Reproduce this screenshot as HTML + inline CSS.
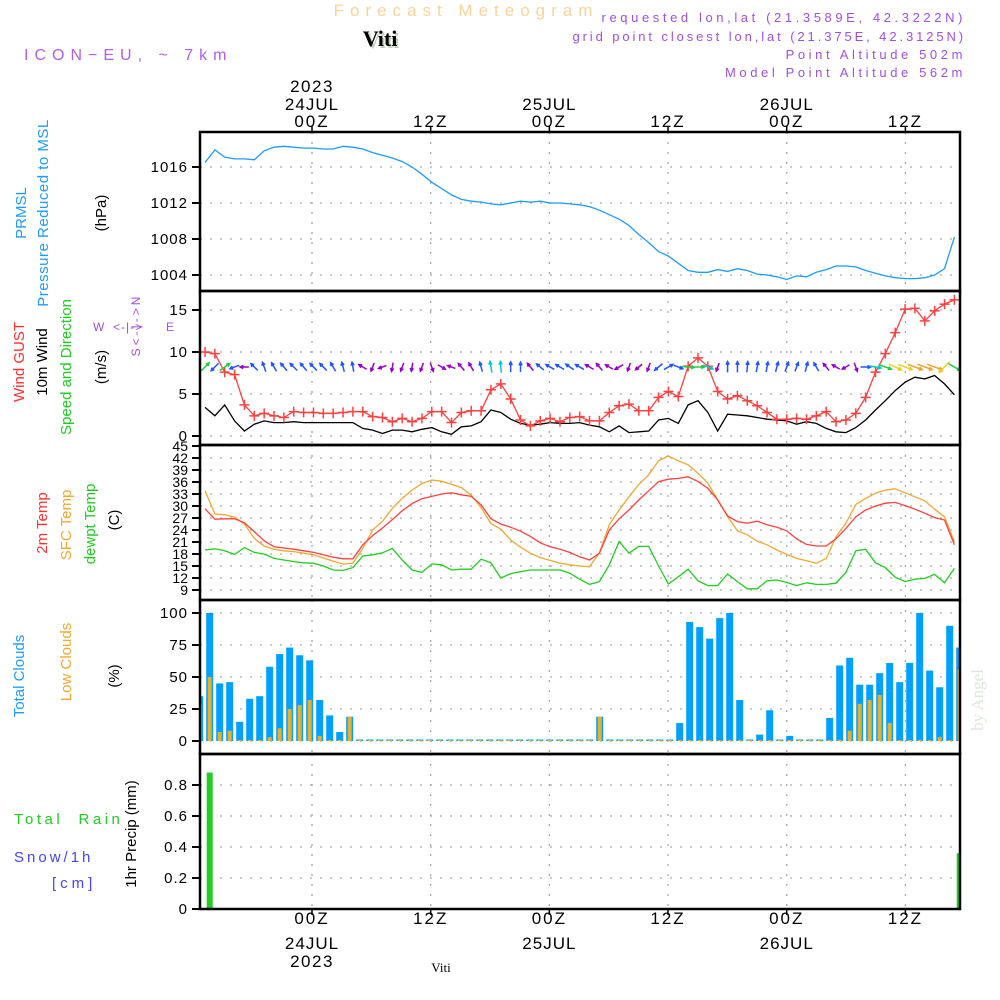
<!DOCTYPE html>
<html><head><meta charset="utf-8">
<style>
body{margin:0;background:#fff;}
svg{display:block;font-family:"Liberation Sans",sans-serif;}
</style></head>
<body>
<svg id="chart" width="1000" height="1000" viewBox="0 0 1000 1000" xmlns="http://www.w3.org/2000/svg">
<text x="466" y="16" text-anchor="middle" font-size="17" fill="#f8d49a" letter-spacing="6">Forecast Meteogram</text>
<text x="382" y="48" text-anchor="middle" font-size="22" font-weight="bold" font-family="Liberation Serif,serif" fill="#bcd0bc">Viti</text>
<text x="380" y="46" text-anchor="middle" font-size="22" font-weight="bold" font-family="Liberation Serif,serif" fill="#000">Viti</text>
<text x="24" y="60" font-size="16" fill="#b060e8" letter-spacing="6">ICON−EU, ~ 7km</text>
<g font-size="13" fill="#a050e0" text-anchor="end" letter-spacing="3.6">
<text x="966" y="22">requested lon,lat (21.3589E, 42.3222N)</text>
<text x="966" y="41" letter-spacing="2.9">grid point closest lon,lat (21.375E, 42.3125N)</text>
<text x="966" y="59">Point Altitude 502m</text>
<text x="966" y="77">Model Point Altitude 562m</text>
</g>
<g id="grid"></g>
<g id="marks"></g>
<g id="frames"></g>
<g id="axes"></g>
<g font-size="15">
<text transform="translate(26,213) rotate(-90)" text-anchor="middle" fill="#1e9bff">PRMSL</text>
<text transform="translate(48,213) rotate(-90)" text-anchor="middle" fill="#1e9bff" letter-spacing="0.5">Pressure Reduced to MSL</text>
<text transform="translate(106,213) rotate(-90)" text-anchor="middle" fill="#000">(hPa)</text>
<text transform="translate(24,362) rotate(-90)" text-anchor="middle" fill="#ff3030">Wind GUST</text>
<text transform="translate(47,362) rotate(-90)" text-anchor="middle" fill="#000">10m Wind</text>
<text transform="translate(71,367) rotate(-90)" text-anchor="middle" fill="#22cc22">Speed and Direction</text>
<text transform="translate(106,367) rotate(-90)" text-anchor="middle" fill="#000">(m/s)</text>
<text x="93" y="331" font-size="12" fill="#a050e0">W</text>
<text x="113" y="331" font-size="12" fill="#a050e0" letter-spacing="1">&lt;-|-&gt;</text>
<text x="166" y="331" font-size="12" fill="#a050e0">E</text>
<text transform="translate(140,325) rotate(-90)" text-anchor="middle" font-size="12" fill="#a050e0" letter-spacing="3">S&lt;-|-&gt;N</text>
<text transform="translate(47,523) rotate(-90)" text-anchor="middle" fill="#ff3030">2m Temp</text>
<text transform="translate(71,525) rotate(-90)" text-anchor="middle" fill="#f0a830">SFC Temp</text>
<text transform="translate(95,524) rotate(-90)" text-anchor="middle" fill="#22cc22">dewpt Temp</text>
<text transform="translate(119,520) rotate(-90)" text-anchor="middle" fill="#000">(C)</text>
<text transform="translate(24,676) rotate(-90)" text-anchor="middle" fill="#1e9bff">Total Clouds</text>
<text transform="translate(71,662) rotate(-90)" text-anchor="middle" fill="#f0a830">Low Clouds</text>
<text transform="translate(119,676) rotate(-90)" text-anchor="middle" fill="#000">(%)</text>
<text x="14" y="824" fill="#22cc22" letter-spacing="3.5" xml:space="preserve">Total  Rain</text>
<text x="14" y="862" fill="#4444ff" letter-spacing="3">Snow/1h</text>
<text x="52" y="888" fill="#4444ff" letter-spacing="4">[cm]</text>
<text transform="translate(136,834) rotate(-90)" text-anchor="middle" fill="#000">1hr Precip (mm)</text>
</g>
<text x="441" y="972" text-anchor="middle" font-size="13" font-family="Liberation Serif,serif">Viti</text>
<text transform="translate(983,700) rotate(-90)" text-anchor="middle" font-size="17" font-family="Liberation Serif,serif" fill="#dde8dd">by Angel</text>
</svg>
<script>
// ---- data (hourly, from 23JUL 13Z) ----
const pressure=[1016.5,1017.9,1017.1,1016.9,1016.9,1016.8,1017.8,1018.2,1018.3,1018.2,1018.1,1018.1,1018.0,1018.0,1018.3,1018.2,1018.0,1017.6,1017.3,1017.0,1016.6,1016.0,1015.2,1014.3,1013.6,1012.9,1012.4,1012.2,1012.1,1011.9,1011.8,1012.0,1012.2,1012.1,1012.2,1012.0,1012.0,1011.9,1011.8,1011.6,1011.2,1010.7,1010.2,1009.5,1008.5,1007.6,1006.6,1006.1,1005.3,1004.5,1004.3,1004.3,1004.6,1004.4,1004.7,1004.5,1004.1,1004.0,1003.8,1003.5,1003.9,1003.8,1004.3,1004.6,1005.0,1005.0,1004.9,1004.5,1004.2,1003.9,1003.7,1003.6,1003.6,1003.7,1004.0,1004.7,1008.2];
const gust=[10.0,9.8,7.6,7.3,3.7,2.4,2.7,2.4,2.2,2.9,2.8,2.8,2.7,2.7,2.8,2.9,2.9,2.3,2.2,1.7,2.1,1.7,2.1,2.9,2.9,1.6,2.8,3.0,3.0,5.5,6.2,4.4,1.9,1.2,1.8,2.1,1.7,2.2,2.3,1.8,1.8,2.8,3.6,3.8,3.0,3.0,4.6,5.3,4.7,8.3,9.3,8.3,5.3,4.4,4.8,4.2,3.6,2.8,2.0,2.0,2.1,2.0,2.4,2.9,1.7,1.9,2.7,4.6,7.6,9.8,12.3,15.1,15.2,13.7,14.9,15.7,16.2];
const wind=[3.4,2.4,3.7,1.8,0.6,1.4,1.8,1.6,1.6,1.7,1.6,1.6,1.6,1.6,1.6,1.6,0.9,0.7,0.3,0.7,0.7,0.5,0.8,1.0,0.5,0.2,1.1,1.2,1.7,3.1,2.8,2.0,1.5,1.3,1.4,1.6,1.5,1.5,1.6,1.3,1.1,0.5,1.2,0.4,0.5,0.6,1.9,2.1,1.5,3.7,4.2,2.8,0.6,2.6,2.5,2.4,2.2,2.0,1.9,1.8,1.4,1.7,1.5,0.9,0.5,0.4,1.0,1.9,3.1,4.2,5.4,6.4,7.0,6.8,7.2,6.2,4.9];
const windDir=[45,225,55,250,270,315,340,330,320,315,320,315,315,330,345,350,300,200,250,190,200,190,200,160,120,290,320,330,345,350,355,0,0,320,310,300,300,305,300,300,320,300,240,200,230,200,230,60,110,95,90,110,200,0,0,5,10,10,15,20,20,15,330,320,300,240,160,90,100,110,115,110,110,110,110,225,120];
const temp2m=[29.3,26.7,26.8,26.8,25.8,23.6,21.3,19.8,19.5,19.2,18.8,18.4,17.8,17.2,16.8,16.8,20.3,22.6,24.5,26.6,28.8,30.6,31.8,32.4,33.0,33.3,32.8,32.4,30.3,26.8,25.5,24.7,23.7,22.4,20.8,19.8,19.2,18.4,17.3,16.5,18.2,24.0,26.8,29.0,31.5,33.8,36.1,36.7,36.9,37.3,36.1,34.4,31.5,27.5,26.1,25.7,26.2,25.3,24.7,23.8,21.8,20.4,20.0,20.0,21.8,24.4,27.3,29.0,30.0,30.7,30.9,30.1,29.2,28.2,27.1,26.5,20.3];
const tempSfc=[33.8,28.0,27.8,27.2,25.5,21.9,20.0,19.2,18.8,18.6,18.2,17.8,17.0,16.2,15.5,15.7,19.4,24.0,26.2,29.4,31.9,34.0,35.6,36.5,36.2,35.4,34.6,32.7,29.6,25.6,24.2,21.5,19.7,18.2,17.1,16.4,15.7,15.3,15.0,14.8,18.3,25.3,29.0,32.3,35.4,37.8,41.3,42.5,41.3,40.3,38.2,35.7,31.5,27.3,23.8,22.8,21.2,20.3,19.0,17.9,16.9,16.3,15.7,16.9,22.3,25.7,30.4,31.9,33.2,34.0,34.3,33.3,32.3,31.3,29.2,27.3,21.0];
const dewpt=[19.0,19.3,18.8,17.9,19.6,18.4,18.0,16.9,16.5,16.1,15.8,15.7,15.0,14.0,13.9,14.6,17.5,17.8,18.3,19.4,16.5,14.0,13.4,15.5,15.3,14.0,14.2,14.2,16.7,15.8,12.0,13.1,13.6,14.0,14.0,14.0,14.0,13.2,11.7,10.4,11.1,15.3,21.1,18.2,19.9,19.9,15.0,10.5,12.3,14.2,11.3,10.1,10.1,13.0,11.1,9.3,9.3,11.3,11.5,10.9,10.1,10.8,10.4,10.4,10.7,13.4,18.8,19.2,15.8,14.6,12.2,11.1,11.7,11.9,12.9,10.8,14.4];
const totalClouds=[35,100,45,46,15,33,35,58,68,73,67,63,32,20,7,19,0,0,0,0,0,0,0,0,0,0,0,0,0,0,0,0,0,0,0,0,0,0,0,0,19,0,0,0,0,0,0,0,14,93,89,80,96,100,32,0,5,24,0,4,0,0,1,18,59,65,44,44,53,61,46,61,100,55,42,90,73];
const lowClouds=[28,50,7,8,0,0,0,3,10,25,28,32,4,0,0,19,0,0,0,0,0,0,0,0,0,0,0,0,0,0,0,0,0,0,0,0,0,0,0,0,19,0,0,0,0,0,0,0,0,0,0,0,0,0,0,0,0,0,0,0,0,0,0,0,1,8,29,32,36,14,0,0,0,0,3,0,56];
const precip=[0,0.88,0,0,0,0,0,0,0,0,0,0,0,0,0,0,0,0,0,0,0,0,0,0,0,0,0,0,0,0,0,0,0,0,0,0,0,0,0,0,0,0,0,0,0,0,0,0,0,0,0,0,0,0,0,0,0,0,0,0,0,0,0,0,0,0,0,0,0,0,0,0,0,0,0,0,0.36];
const pTicks=[1004,1008,1012,1016];
const wTicks=[0,5,10,15];
const tTicks=[9,12,15,18,21,24,27,30,33,36,39,42,45];
const cTicks=[0,25,50,75,100];
const rTicks=[0,0.2,0.4,0.6,0.8];
const timeHours=[0,12,24,36,48,60];
const timeTop=["00Z","12Z","00Z","12Z","00Z","12Z"];
const dateLabels=["24JUL","","25JUL","","26JUL",""];

// ---- scales ----
const X0=200,X1=960;
const xL=i=>205+9.86*i;
const xB=i=>199.7+10*i;
const xT=h=>312+h*9.89;
const yP=p=>167+(1016-p)*9;
const yW=v=>436-v*8.4;
const yT=t=>590-(t-9)*4;
const yC=c=>741-c*1.28;
const yR=r=>909-r*155;
const NS='http://www.w3.org/2000/svg';
const gGrid=document.getElementById('grid'),gMarks=document.getElementById('marks'),gFr=document.getElementById('frames'),gAx=document.getElementById('axes');
function mk(tag,attrs,parent){const e=document.createElementNS(NS,tag);for(const k in attrs)e.setAttribute(k,attrs[k]);parent.appendChild(e);return e;}

const panels=[{t:132,b:291,ticks:pTicks,y:yP,fmt:v=>v},{t:291,b:445,ticks:wTicks,y:yW,fmt:v=>v},{t:445,b:600,ticks:tTicks,y:yT,fmt:v=>v},{t:600,b:754,ticks:cTicks,y:yC,fmt:v=>v},{t:754,b:909,ticks:rTicks,y:yR,fmt:v=>v===0?'0':v.toFixed(1)}];
panels.forEach((p,pi)=>{
  timeHours.forEach(h=>{const l=mk('line',{x1:xT(h),x2:xT(h),y1:p.t,y2:p.b,stroke:'#aaa','stroke-width':1.3,'stroke-dasharray':'2,8'},gGrid);
    
    });
  p.ticks.forEach(v=>{const y=p.y(v);
    const l=mk('line',{x1:X0,x2:X1,y1:y,y2:y,stroke:'#aaa','stroke-width':1.3,'stroke-dasharray':'2,8'},gGrid);
    
    
    mk('line',{x1:192,x2:X0,y1:y,y2:y,stroke:'#000','stroke-width':2},gAx);
    const t=mk('text',{x:188,y:y+5,'text-anchor':'end','font-size':pi===2?14:15,'letter-spacing':pi===2?'0':'1'},gAx);
    t.textContent=p.fmt(v);
    
    });
  const r=mk('rect',{x:X0,y:p.t,width:X1-X0,height:p.b-p.t,fill:'none',stroke:'#000','stroke-width':2.5},gFr);
  
  
});
// time axis labels
timeHours.forEach((h,k)=>{const x=xT(h);
  mk('line',{x1:x,x2:x,y1:126,y2:132,stroke:'#000','stroke-width':1.5},gAx);
  mk('line',{x1:x,x2:x,y1:909,y2:915,stroke:'#000','stroke-width':1.5},gAx);
  const a=mk('text',{x:x,y:127,'text-anchor':'middle','font-size':17,'letter-spacing':'2'},gAx);a.textContent=timeTop[k];
  
  
  const b=mk('text',{x:x,y:924,'text-anchor':'middle','font-size':17,'letter-spacing':'2'},gAx);b.textContent=timeTop[k];
  
  
  if(dateLabels[k]){
    const c=mk('text',{x:x,y:110,'text-anchor':'middle','font-size':17,'letter-spacing':'1'},gAx);c.textContent=dateLabels[k];
    
    
    const d=mk('text',{x:x,y:949,'text-anchor':'middle','font-size':17,'letter-spacing':'1'},gAx);d.textContent=dateLabels[k];
    
    }
});
[[92],[967]].forEach(([y])=>{const t=mk('text',{x:xT(0),y:y,'text-anchor':'middle','font-size':17,'letter-spacing':'1.5'},gAx);t.textContent='2023';
  
  });

// clip
const defs=mk('defs',{},gMarks);
panels.forEach((p,pi)=>{const c=mk('clipPath',{id:'clip'+pi},defs);mk('rect',{x:X0,y:p.t,width:X1-X0,height:p.b-p.t},c);});
function line(arr,ys,color,name,clip,w){const pts=arr.map((v,i)=>xL(i).toFixed(1)+','+ys(v).toFixed(1)).join(' ');
  const l=mk('polyline',{points:pts,fill:'none',stroke:color,'stroke-width':w||1.3,'clip-path':'url(#clip'+clip+')'},gMarks);
  
  return l;}
line(pressure,yP,'#1e9bff','pressure-line',0);
line(wind,yW,'#000','wind-speed-line',1);
line(gust,yW,'#ff4040','wind-gust-line',1);
gust.forEach((v,i)=>{const x=xL(i),y=yW(v);
  const m=mk('path',{d:`M${x-5},${y}H${x+5}M${x},${y-5}V${y+5}`,stroke:'#ff4040','stroke-width':1.5,'clip-path':'url(#clip1)'},gMarks);
  
  });
function wcol(s){return s<1.35?'#9900cc':s<2.7?'#2255ff':s<3.4?'#00cccc':s<5?'#22cc44':s<6.5?'#e8d020':'#f0a030';}
windDir.forEach((d,i)=>{const s=wind[i],L=8+s*1.1,r=d*Math.PI/180,cx=xL(i),cy=367;
  const dx=Math.sin(r)*L/2,dy=-Math.cos(r)*L/2;const x2=cx+dx,y2=cy+dy;
  const a1=r+Math.PI*0.85,a2=r-Math.PI*0.85;
  const p=`M${cx-dx},${cy-dy}L${x2},${y2}M${x2+Math.sin(a1)*3.5},${y2-Math.cos(a1)*3.5}L${x2},${y2}L${x2+Math.sin(a2)*3.5},${y2-Math.cos(a2)*3.5}`;
  const a=mk('path',{d:p,stroke:wcol(s),'stroke-width':1.5,fill:'none','clip-path':'url(#clip1)'},gMarks);
  
  });
line(tempSfc,yT,'#f0a830','sfc-temp-line',2);
line(temp2m,yT,'#ff4040','temp-2m-line',2);
line(dewpt,yT,'#22cc22','dewpoint-line',2);
totalClouds.forEach((v,i)=>{const y=yC(v);const h=Math.max(1.5,741-y);
  const b=mk('rect',{x:xB(i)-3.5,y:741-h,width:7,height:h,fill:'#00a0ff','clip-path':'url(#clip3)'},gMarks);
  
  });
lowClouds.forEach((v,i)=>{const y=yC(v);const h=Math.max(1,741-y);
  const b=mk('rect',{x:xB(i)-2,y:741-h,width:4,height:h,fill:'#e8b030','clip-path':'url(#clip3)'},gMarks);
  
  });
precip.forEach((v,i)=>{if(v<=0)return;const y=yR(v);
  const b=mk('rect',{x:xB(i)-3,y:y,width:6,height:909-y,fill:'#22cc22','clip-path':'url(#clip4)'},gMarks);
  
  });
</script>
</body></html>
